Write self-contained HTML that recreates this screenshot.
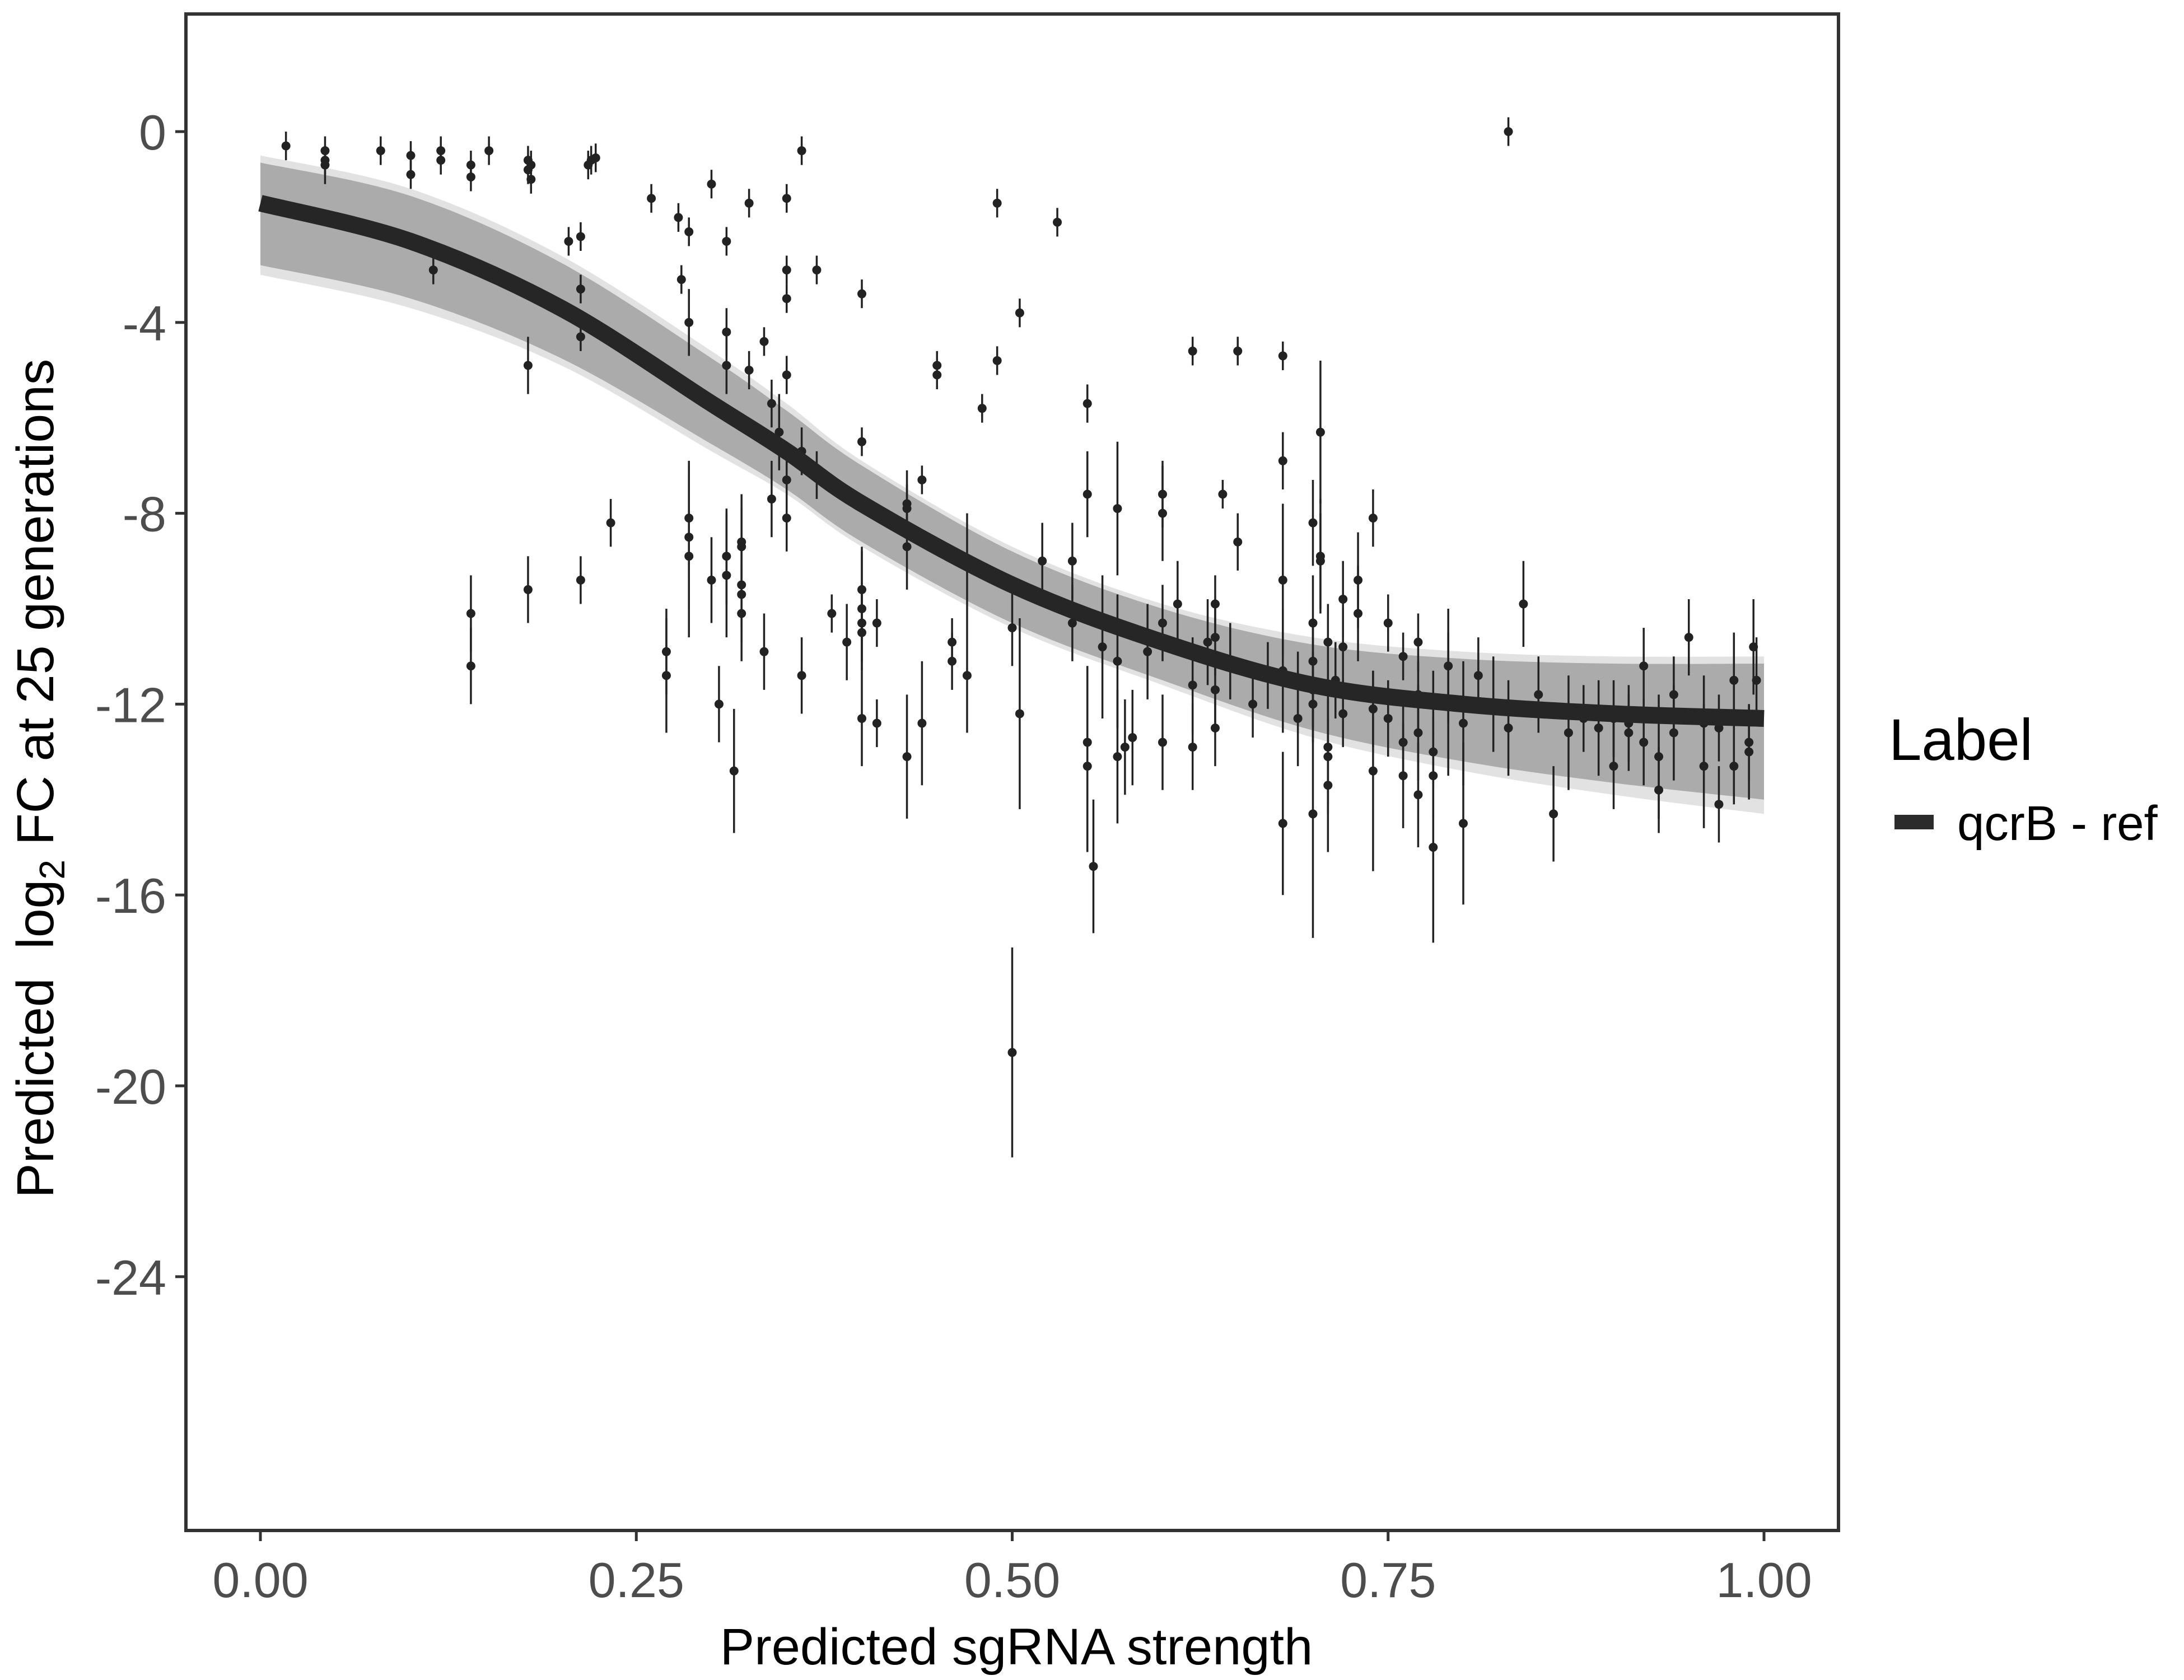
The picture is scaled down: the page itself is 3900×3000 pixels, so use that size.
<!DOCTYPE html>
<html>
<head>
<meta charset="utf-8">
<style>
html,body{margin:0;padding:0;background:#fff;}
svg{display:block;font-family:"Liberation Sans",Arial,sans-serif;}
</style>
</head>
<body>
<svg id="chart" width="3900" height="3000" viewBox="0 0 3900 3000" xmlns="http://www.w3.org/2000/svg">
  <rect x="0" y="0" width="3900" height="3000" fill="#fff"/>
  <g id="bandLayer"></g>
  <g id="pointLayer"></g>
  <g id="curveLayer"></g>
  <rect x="332" y="25" width="2951" height="2708" fill="none" stroke="#333" stroke-width="6"/>
  <g id="axisLayer"></g>
  <text x="1815" y="2972" font-size="92" text-anchor="middle" fill="#000">Predicted sgRNA strength</text>
  <text transform="translate(95,1390) rotate(-90)" font-size="93" text-anchor="middle" fill="#000" xml:space="preserve">Predicted  log<tspan font-size="64" dy="20">2</tspan><tspan dy="-20"> FC at 25 generations</tspan></text>
  <g>
    <text x="3373" y="1357" font-size="105" fill="#000">Label</text>
    <rect x="3383" y="1455" width="70" height="26" fill="#2b2b2b"/>
    <text x="3495" y="1500" font-size="87" fill="#000">qcrB - ref</text>
  </g>
</svg>
<script>
const xTicks = [0, 0.25, 0.5, 0.75, 1.0];
const xTickLabels = ["0.00", "0.25", "0.50", "0.75", "1.00"];
const yTicks = [0, -4, -8, -12, -16, -20, -24];
const yTickLabels = ["0", "-4", "-8", "-12", "-16", "-20", "-24"];
const curveX = [0, 0.1, 0.2, 0.3, 0.35, 0.4, 0.5, 0.6, 0.7, 0.8, 0.9, 1.0];
const curveY = [-1.5, -2.3, -3.7, -5.7, -6.7, -7.8, -9.5, -10.7, -11.6, -12.0, -12.2, -12.3];
const bandOuterUp = [-0.5, -1.2, -2.6, -4.6, -5.7, -6.9, -8.7, -9.9, -10.6, -10.9, -11.0, -11.0];
const bandOuterLo = [-3.0, -3.7, -4.9, -6.7, -7.6, -8.7, -10.4, -11.6, -12.7, -13.4, -13.9, -14.3];
const bandInnerUp = [-0.65, -1.35, -2.75, -4.75, -5.85, -7.0, -8.8, -10.0, -10.75, -11.05, -11.15, -11.15];
const bandInnerLo = [-2.8, -3.5, -4.75, -6.55, -7.5, -8.6, -10.3, -11.5, -12.55, -13.2, -13.65, -14.0];
const ptX = [0.017,0.043,0.043,0.043,0.08,0.1,0.1,0.12,0.12,0.14,0.14,0.152,0.178,0.178,0.18,0.18,0.218,0.223,0.22,0.115,0.205,0.213,0.213,0.213,0.178,0.14,0.14,0.178,0.213,0.233,
0.26,0.27,0.27,0.278,0.28,0.285,0.285,0.285,0.285,0.285,0.3,0.3,0.305,0.31,0.31,0.31,0.31,0.31,0.315,0.32,0.32,0.32,0.32,0.32,0.325,0.325,0.335,0.335,0.34,0.34,0.345,0.35,0.35,0.35,0.35,0.35,0.35,0.36,0.36,0.36,0.37,0.37,0.38,0.39,0.4,0.4,0.4,0.4,0.4,0.4,0.4,0.41,0.41,
0.43,0.43,0.43,0.43,0.44,0.44,0.45,0.45,0.46,0.46,0.47,0.47,0.48,0.49,0.49,0.5,0.505,0.505,0.5,0.52,0.53,0.54,0.54,0.55,0.55,0.55,0.55,0.56,0.57,0.57,0.57,0.575,0.58,0.59,0.6,0.6,0.6,0.6,0.61,0.62,0.62,0.554,0.62,0.63,0.635,0.635,0.635,0.635,0.64,0.645,0.65,0.65,0.66,0.67,0.68,0.68,0.68,0.68,0.68,0.69,0.69,0.7,0.7,0.7,0.7,0.7,0.705,0.705,0.705,0.71,0.71,0.71,0.71,0.715,0.72,0.72,0.73,0.74,0.74,0.75,0.76,0.76,0.77,0.77,0.78,
0.72,0.73,0.74,0.75,0.76,0.77,0.77,0.78,0.78,0.78,0.79,0.79,0.8,0.8,0.81,0.82,0.83,0.83,0.84,0.85,0.86,0.87,0.88,0.89,0.9,0.9,0.91,0.91,0.92,0.92,0.93,0.93,0.94,0.94,0.95,0.96,0.96,0.97,0.97,0.98,0.98,0.99,0.995,0.99,0.993,0.70];
const ptY = [-0.3,-0.4,-0.6,-0.7,-0.4,-0.5,-0.9,-0.4,-0.6,-0.7,-0.95,-0.4,-0.6,-0.8,-1.0,-0.7,-0.7,-0.55,-0.6,-2.9,-2.3,-2.2,-3.3,-4.3,-4.9,-10.1,-11.2,-9.6,-9.4,-8.2,
-1.4,-10.9,-11.4,-1.8,-3.1,-2.1,-4.0,-8.1,-8.5,-8.9,-1.1,-9.4,-12.0,-2.3,-4.2,-4.9,-8.9,-9.3,-13.4,-8.7,-8.6,-9.5,-9.7,-10.1,-1.5,-5.0,-4.4,-10.9,-5.7,-7.7,-6.3,-1.4,-2.9,-3.5,-5.1,-7.3,-8.1,-0.4,-11.4,-6.7,-2.9,-7.2,-10.1,-10.7,-3.4,-6.5,-9.6,-10.0,-10.5,-10.3,-12.3,-10.3,-12.4,
-13.1,-8.7,-7.8,-7.9,-12.4,-7.3,-4.9,-5.1,-10.7,-11.1,-9.1,-11.4,-5.8,-1.5,-4.8,-10.4,-3.8,-12.2,-19.3,-9.0,-1.9,-9.0,-10.3,-5.7,-7.6,-12.8,-13.3,-10.8,-11.1,-13.1,-7.9,-12.9,-12.7,-10.9,-7.6,-10.3,-12.8,-8.0,-9.9,-11.6,-4.6,-15.4,-12.9,-10.7,-11.7,-10.6,-9.9,-12.5,-7.6,-11.1,-8.6,-4.6,-12.0,-11.4,-4.7,-6.9,-9.4,-11.3,-14.5,-11.6,-12.3,-8.2,-10.3,-11.1,-12.0,-11.7,-6.3,-8.9,-9.0,-10.7,-13.1,-13.7,-12.9,-11.5,-10.8,-12.2,-9.4,-8.1,-12.1,-10.3,-11.0,-13.5,-10.7,-11.8,-13.0,
-9.8,-10.1,-13.4,-12.3,-12.8,-12.6,-13.9,-13.5,-12.0,-15.0,-11.2,-12.0,-12.4,-14.5,-11.4,-12.0,0.0,-12.5,-9.9,-11.8,-14.3,-12.6,-12.3,-12.5,-12.3,-13.3,-12.6,-12.4,-11.2,-12.8,-13.8,-13.1,-11.8,-12.6,-10.6,-12.4,-13.3,-12.5,-14.1,-11.5,-13.3,-12.8,-11.5,-13.0,-10.8,-14.3];
const ptErr = [0.3,0.3,0.3,0.4,0.3,0.3,0.3,0.3,0.3,0.3,0.3,0.3,0.3,0.3,0.3,0.3,0.3,0.3,0.3,0.3,0.3,0.3,0.3,0.3,0.6,0.8,0.8,0.7,0.5,0.5,
0.3,0.9,1.2,0.3,0.3,0.3,0.7,1.2,1.5,1.7,0.3,0.9,0.8,0.3,0.5,0.6,1.0,1.3,1.3,0.8,1.0,0.9,1.0,1.0,0.3,0.4,0.3,0.8,0.5,0.8,0.8,0.3,0.3,0.3,0.4,0.8,0.7,0.3,0.8,0.5,0.3,0.5,0.4,0.8,0.3,0.3,0.8,1.3,0.8,0.8,1.0,0.5,0.5,
1.3,0.9,0.7,0.5,1.3,0.3,0.3,0.3,0.5,0.6,1.1,1.2,0.3,0.3,0.3,0.8,0.3,2.0,2.2,0.8,0.3,0.8,0.8,0.4,0.9,1.6,1.8,1.5,1.4,1.4,1.4,1.0,1.0,1.0,0.7,0.8,1.0,1.0,0.9,1.0,0.3,1.4,0.9,0.9,0.7,0.8,0.6,0.8,0.3,0.8,0.6,0.3,0.7,0.7,0.3,0.6,1.6,1.3,1.5,0.7,1.0,0.9,1.0,0.8,0.8,0.8,1.5,1.2,1.0,0.8,1.2,1.4,1.2,0.8,0.8,0.7,1.0,0.6,0.8,0.6,0.5,1.1,0.6,0.7,0.7,
0.8,1.0,2.1,0.8,0.8,1.0,1.1,0.9,0.7,2.0,1.2,1.5,1.3,1.7,0.8,1.0,0.3,1.0,0.9,0.8,1.0,1.2,0.7,1.0,0.8,0.9,0.8,0.8,0.8,0.9,0.9,1.3,0.8,1.0,0.8,1.0,1.3,0.7,0.8,1.0,0.8,0.8,0.9,1.0,1.0,2.6];

const NS = "http://www.w3.org/2000/svg";
const X0 = 465, X1 = 3150, Y0 = 235, YPU = 85.2;
function sx(v){ return X0 + v * (X1 - X0); }
function sy(v){ return Y0 - v * YPU; }
function mk(tag, attrs, parent){
  const el = document.createElementNS(NS, tag);
  for (const k in attrs) el.setAttribute(k, attrs[k]);
  parent.appendChild(el);
  return el;
}
function segs(ys, reverse){
  let xs = curveX.map(sx), yv = ys.map(sy);
  if (reverse){ xs = xs.slice().reverse(); yv = yv.slice().reverse(); }
  const n = xs.length;
  let d = '';
  for (let i = 0; i < n - 1; i++){
    const p0 = i > 0 ? i - 1 : i, p3 = i + 2 < n ? i + 2 : i + 1;
    const c1x = xs[i] + (xs[i+1] - xs[p0]) / 6, c1y = yv[i] + (yv[i+1] - yv[p0]) / 6;
    const c2x = xs[i+1] - (xs[p3] - xs[i]) / 6, c2y = yv[i+1] - (yv[p3] - yv[i]) / 6;
    d += ' C' + c1x + ',' + c1y + ' ' + c2x + ',' + c2y + ' ' + xs[i+1] + ',' + yv[i+1];
  }
  return {start: xs[0] + ',' + yv[0], d: d};
}
function bandPath(up, lo){
  const a = segs(up, false), b = segs(lo, true);
  return 'M' + a.start + a.d + ' L' + b.start + b.d + ' Z';
}
const band = document.getElementById('bandLayer');
const outer = mk('path', {d: bandPath(bandOuterUp, bandOuterLo), fill: '#e2e2e2'}, band);


const inner = mk('path', {d: bandPath(bandInnerUp, bandInnerLo), fill: '#ababab'}, band);


const pl = document.getElementById('pointLayer');
for (let i = 0; i < ptX.length; i++){
  const g = mk('g', {}, pl);
  
  
  const x = sx(ptX[i]);
  mk('line', {x1: x, x2: x, y1: sy(ptY[i] + ptErr[i]), y2: sy(ptY[i] - ptErr[i]), stroke: '#222', 'stroke-width': 3.5}, g);
  mk('circle', {cx: x, cy: sy(ptY[i]), r: 8, fill: '#222'}, g);
}
const cs = segs(curveY, false);
const curve = mk('path', {d: 'M' + cs.start + cs.d, fill: 'none', stroke: '#262626', 'stroke-width': 30}, document.getElementById('curveLayer'));


const ax = document.getElementById('axisLayer');
for (let i = 0; i < xTicks.length; i++){
  const x = sx(xTicks[i]);
  const t = mk('line', {x1: x, x2: x, y1: 2736, y2: 2752, stroke: '#333', 'stroke-width': 5}, ax);
  
  
  const l = mk('text', {x: x, y: 2852, 'font-size': 88, 'text-anchor': 'middle', fill: '#4d4d4d'}, ax);
  l.textContent = xTickLabels[i];
  
  
}
for (let i = 0; i < yTicks.length; i++){
  const y = sy(yTicks[i]);
  const t = mk('line', {x1: 313, x2: 329, y1: y, y2: y, stroke: '#333', 'stroke-width': 5}, ax);
  
  
  const l = mk('text', {x: 297, y: y + 32, 'font-size': 88, 'text-anchor': 'end', fill: '#4d4d4d'}, ax);
  l.textContent = yTickLabels[i];
  
  
}
</script>
</body>
</html>
